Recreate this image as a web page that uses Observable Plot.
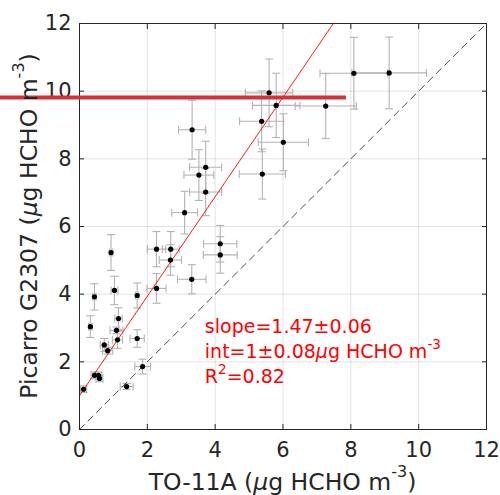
<!DOCTYPE html>
<html><head><meta charset="utf-8">
<script src="https://cdn.jsdelivr.net/npm/d3@7"></script>
<script src="https://cdn.jsdelivr.net/npm/@observablehq/plot@0.6"></script>
<style>body{margin:0;background:#fff} svg{display:block}</style>
</head><body><div id="chart"></div>
<script>
// TO-11A (x) vs Picarro G2307 (y), µg HCHO m-3
const xs   = [0.12,0.44,0.56,0.59,1.39,1.86,0.83,0.73,1.12,1.70,1.09,0.32,1.15,0.44,1.70,1.03,2.27,3.31,2.68,4.15,0.93,2.27,2.69,4.15,3.10,3.72,3.52,3.72,5.39,6.01,3.32,5.37,5.80,7.26,5.59,8.09,9.13];
const ys   = [1.19,1.60,1.60,1.51,1.27,1.86,2.33,2.50,2.65,2.69,2.93,3.04,3.28,3.92,3.96,4.11,4.17,4.44,5.01,5.16,5.23,5.33,5.33,5.49,6.41,7.02,7.52,7.75,7.55,8.49,8.86,9.11,9.58,9.56,9.95,10.53,10.54];
const xerr = [0.09,0.10,0.10,0.10,0.19,0.23,0.15,0.12,0.15,0.21,0.19,0.05,0.11,0.05,0.05,0.10,0.28,0.42,0.33,0.50,0.05,0.27,0.25,0.49,0.38,0.47,0.44,0.47,0.68,0.74,0.40,0.65,0.70,0.90,0.70,1.00,1.10];
const yerr = [0.10,0.10,0.10,0.10,0.09,0.22,0.10,0.19,0.25,0.26,0.10,0.32,0.32,0.39,0.37,0.42,0.44,0.43,0.45,0.54,0.53,0.52,0.52,0.54,0.63,0.70,0.75,0.77,0.74,0.84,0.87,0.90,0.95,0.96,1.00,1.06,1.06];
const ticks = [0,2,4,6,8,10,12];
const fitSlope = 1.47, fitIntercept = 1;
const oneToOne = [0,12];
const bandY = [9.81], bandX = [-2.33, 7.87];
const noteLines = ["slope=1.47±0.06", "int=1±0.08", "R"];
const noteAnchor = {x: 3.71, y: [2.84, 2.10, 1.36]};

const data = xs.map((x,i)=>({x, y: ys[i], xe: xerr[i], ye: yerr[i]}));
const fitEnd = (12 - fitIntercept) / fitSlope;
const fitData = [0, fitEnd].map(x => ({x, y: fitSlope*x + fitIntercept}));
const diag = oneToOne.map(v => ({x: v, y: v}));

const hcap = {draw(ctx, size){const r=Math.sqrt(size/Math.PI); ctx.moveTo(-r,0); ctx.lineTo(r,0);}};
const vcap = {draw(ctx, size){const r=Math.sqrt(size/Math.PI); ctx.moveTo(0,-r); ctx.lineTo(0,r);}};
const eb = {stroke:"#b3b3b3", strokeWidth:1.1};

const plot = Plot.plot({
  width:500, height:495, marginLeft:79, marginRight:14, marginTop:23, marginBottom:66,
  style:{fontFamily:"DejaVu Sans", fontSize:"21px", color:"#262626", background:"#fff"},
  x:{domain:[0,12], label:null},
  y:{domain:[0,12], label:null},
  marks:[
    Plot.gridX(ticks,{stroke:"#262626", strokeOpacity:0.13}),
    Plot.gridY(ticks,{stroke:"#262626", strokeOpacity:0.13}),
    Plot.link(data,{x1:d=>d.x-d.xe, x2:d=>d.x+d.xe, y1:"y", y2:"y", ...eb}),
    Plot.link(data,{x1:"x", x2:"x", y1:d=>d.y-d.ye, y2:d=>d.y+d.ye, ...eb}),
    Plot.dot(data,{x:d=>d.x-d.xe, y:"y", symbol:vcap, r:4, fill:"none", ...eb}),
    Plot.dot(data,{x:d=>d.x+d.xe, y:"y", symbol:vcap, r:4, fill:"none", ...eb}),
    Plot.dot(data,{x:"x", y:d=>d.y-d.ye, symbol:hcap, r:4, fill:"none", ...eb}),
    Plot.dot(data,{x:"x", y:d=>d.y+d.ye, symbol:hcap, r:4, fill:"none", ...eb}),
    Plot.line(diag,{x:"x", y:"y", stroke:"#3a3a3a", strokeWidth:0.9, strokeDasharray:"7,5"}),
    Plot.line(fitData,{x:"x", y:"y", stroke:"#ff0000", strokeWidth:0.9}),
    Plot.dot(data,{x:"x", y:"y", r:2.6, fill:"#000", stroke:"none"}),
    Plot.frame({stroke:"#262626", strokeWidth:1}),
    Plot.axisX(ticks,{anchor:"bottom", tickSize:-5, tickPadding:18, fontSize:21, label:null, stroke:"#262626"}),
    Plot.axisX(ticks,{anchor:"top", tickSize:-5, tickFormat:()=>"", label:null, stroke:"#262626"}),
    Plot.axisY(ticks,{anchor:"left", tickSize:-5, tickPadding:13, fontSize:21, label:null, stroke:"#262626"}),
    Plot.axisY(ticks,{anchor:"right", tickSize:-5, tickFormat:()=>"", label:null, stroke:"#262626"}),
    Plot.ruleY(bandY,{x1:bandX[0], x2:bandX[1], stroke:"#d13438", strokeWidth:4})
  ]
});
document.getElementById("chart").appendChild(plot);

const svg = d3.select(plot);
const sx = plot.scale("x"), sy = plot.scale("y");
const ff = "DejaVu Sans";
// x axis label
const xl = svg.append("text").attr("x", (sx.apply(0)+sx.apply(12))/2).attr("y", 490)
  .attr("text-anchor","middle").attr("font-family",ff).attr("font-size",23.5).attr("fill","#262626");
xl.append("tspan").text("TO-11A (");
xl.append("tspan").attr("font-style","italic").text("μ");
xl.append("tspan").text("g HCHO m");
xl.append("tspan").attr("font-size",16).attr("dy",-13).text("-3");
xl.append("tspan").attr("dy",13).text(")");
// y axis label
const yl = svg.append("text").attr("transform",`translate(37,${(sy.apply(0)+sy.apply(12))/2}) rotate(-90)`)
  .attr("text-anchor","middle").attr("font-family",ff).attr("font-size",23.5).attr("fill","#262626");
yl.append("tspan").text("Picarro G2307 (");
yl.append("tspan").attr("font-style","italic").text("μ");
yl.append("tspan").text("g HCHO m");
yl.append("tspan").attr("font-size",16).attr("dy",-13).text("-3");
yl.append("tspan").attr("dy",13).text(")");
// annotation
const nx = sx.apply(noteAnchor.x);
const mk = (i) => svg.append("text").attr("x", nx).attr("y", sy.apply(noteAnchor.y[i]))
  .attr("text-anchor","start").attr("font-family",ff).attr("font-size",19).attr("fill","#ff0000");
mk(0).text(noteLines[0]);
const t2 = mk(1);
t2.append("tspan").text(noteLines[1]);
t2.append("tspan").attr("font-style","italic").text("μ");
t2.append("tspan").text("g HCHO m");
t2.append("tspan").attr("font-size",13.5).attr("dy",-9).text("-3");
const t3 = mk(2);
t3.append("tspan").text(noteLines[2]);
t3.append("tspan").attr("font-size",13.5).attr("dy",-9).text("2");
t3.append("tspan").attr("dy",9).text("=0.82");
</script></body></html>
